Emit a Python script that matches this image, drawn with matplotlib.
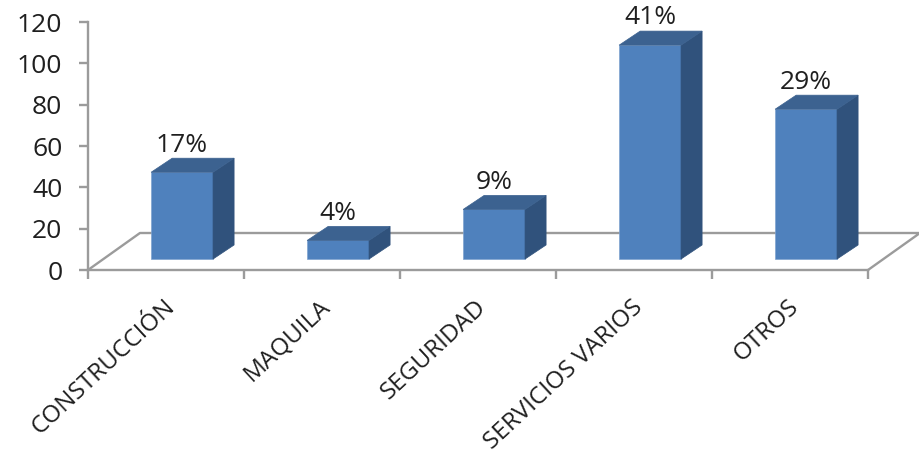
import matplotlib
matplotlib.use('Agg')
import matplotlib.pyplot as plt
from matplotlib.patches import Polygon

plt.rcParams['font.family'] = ['Open Sans', 'DejaVu Sans']

# Datos
categorias = ['CONSTRUCCIÓN', 'MAQUILA', 'SEGURIDAD', 'SERVICIOS VARIOS', 'OTROS']
valores = [42, 9, 24, 103.5, 72.5]
etiquetas = ['17%', '4%', '9%', '41%', '29%']
ticks_y = [0, 20, 40, 60, 80, 100, 120]

# Estilo
frente = '#4f81bd'
lado = '#30527c'
arriba = '#3c6290'
gris = '#9b9b9b'
texto = '#1f1f1f'

# Profundidad en unidades de datos
suelo_dx, suelo_dy = 0.333, 17.9
barra_x, barra_y = 0.103, 5.3
ancho = 0.397
lado_dx, lado_dy = 0.135, 6.8

W, H = 920, 453
fig = plt.figure(figsize=(W / 100, H / 100), dpi=100)
ax = fig.add_axes([88 / W, 1 - 270 / H, 780 / W, 248 / H])
ax.set_xlim(0, 5)
ax.set_ylim(0, 120)

# Suelo
ax.plot([0, suelo_dx, 5 + suelo_dx, 5], [0, suelo_dy, suelo_dy, 0],
        color=gris, lw=1.7, clip_on=False, zorder=1)

for i, v in enumerate(valores):
    x0 = i + 0.5 - ancho / 2 + barra_x
    x1 = x0 + ancho
    y0 = barra_y
    y1 = barra_y + v
    ax.add_patch(Polygon([(x0, y0), (x1, y0), (x1, y1), (x0, y1)],
                         fc=frente, ec='#7fa3cf', lw=0.5, clip_on=False, zorder=3))
    ax.add_patch(Polygon([(x1, y0), (x1 + lado_dx, y0 + lado_dy),
                          (x1 + lado_dx, y1 + lado_dy), (x1, y1)],
                         fc=lado, ec=lado, lw=0.5, clip_on=False, zorder=3))
    ax.add_patch(Polygon([(x0, y1), (x1, y1), (x1 + lado_dx, y1 + lado_dy),
                          (x0 + lado_dx, y1 + lado_dy)],
                         fc=arriba, ec=arriba, lw=0.5, clip_on=False, zorder=3))
    ax.text((x0 + x1) / 2, y1 + 10, etiquetas[i], ha='center', va='baseline',
            fontsize=19, color=texto, clip_on=False, zorder=4)

ax.set_xticks(range(6))
ax.set_xticklabels([])
ax.set_yticks(ticks_y)
ax.tick_params(axis='y', length=6.5, width=1.7, color=gris, labelsize=19,
               labelcolor=texto, pad=12)
ax.tick_params(axis='x', length=6.5, width=1.7, color=gris)
for s in ['top', 'right']:
    ax.spines[s].set_visible(False)
for s in ['left', 'bottom']:
    ax.spines[s].set_color(gris)
    ax.spines[s].set_linewidth(1.7)

# Etiquetas rotadas
for i, c in enumerate(categorias):
    ax.annotate(c, xy=(i + 0.5, 0), xycoords='data', xytext=(-2, -18),
                textcoords='offset points', rotation=43, ha='right', va='top',
                rotation_mode='anchor', fontsize=17.5, color=texto)

fig.savefig('out.png', dpi=100)
